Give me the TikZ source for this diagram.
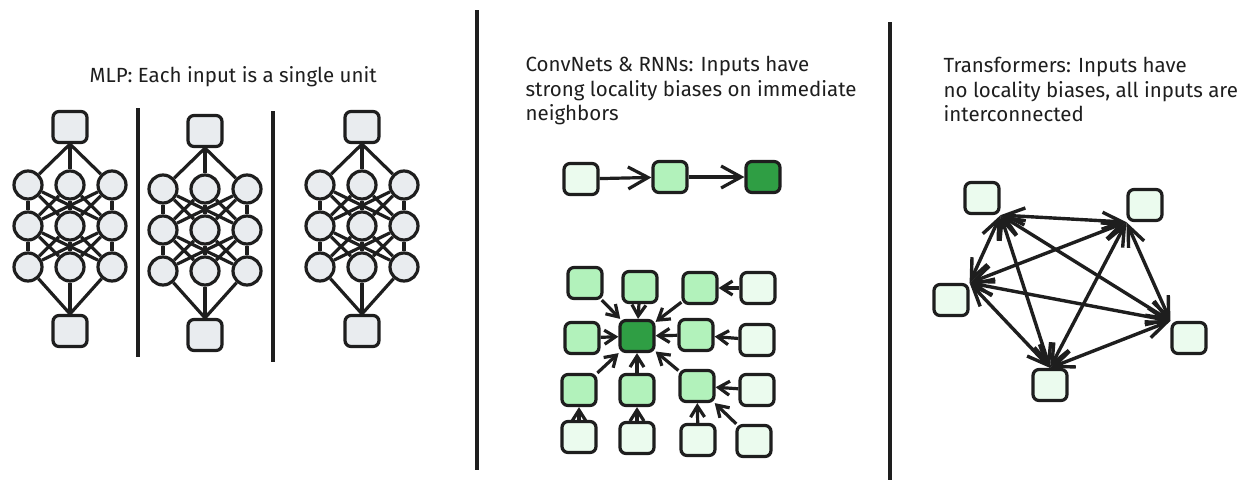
\documentclass[tikz,border=0pt]{standalone}
\usepackage{fontspec}
\setmainfont{Fira Sans}
\usetikzlibrary{arrows.meta,positioning}

\definecolor{ink}{HTML}{1E1E1E}
\definecolor{unitgray}{HTML}{E9ECEF}
\definecolor{palegreen}{HTML}{EBFBEE}
\definecolor{midgreen}{HTML}{B2F2BB}
\definecolor{darkgreen}{HTML}{2F9E44}

\begin{document}
\begin{tikzpicture}[x=1pt, y=-1pt, color=ink, line width=3.2pt,
  >={Straight Barb[length=11pt, width=14pt]},
  box/.style={draw, rounded corners=6pt, minimum width=34pt, minimum height=31pt, inner sep=0pt},
  unit/.style={circle, draw, fill=unitgray, minimum size=28pt, inner sep=0pt},
  title/.style={anchor=north west, align=left, inner sep=0pt, font=\fontsize{20.5}{24.5}\selectfont}]
\useasboundingbox (0,0) rectangle (1257,493);

% titles
\node[title] (tmlp) at (88,65) {MLP: Each input is a single unit};
\node[title] (tconv) at (524,55) {ConvNets \& RNNs: Inputs have\\strong locality biases on immediate\\neighbors};
\node[title] (ttrans) at (942,56) {Transformers: Inputs have\\no locality biases, all inputs are\\interconnected};

% dividers
\draw (138,108) -- (138,357);
\draw (273,111) -- (273,362);
\draw (477,10) -- (477,470);
\draw (890,22) -- (890,480);

% MLP columns
\foreach \c/\cx/\dy in {1/70/0, 2/205/4, 3/362/0} {
  \node[box, fill=unitgray] (Top\c) at (\cx,127+\dy) {};
  \node[box, fill=unitgray] (Bot\c) at (\cx,331+\dy) {};
  \foreach \r/\ry in {1/185, 2/226, 3/267}
    \foreach \i/\ix in {1/-42, 2/0, 3/42}
      \node[unit] (N\c\r\i) at (\cx+\ix,\ry+\dy) {};
  \foreach \i in {1,2,3} {
    \draw (Top\c.south) -- (N\c1\i);
    \draw (N\c3\i) -- (Bot\c.north);
    \foreach \j in {1,2,3} {
      \draw (N\c1\i) -- (N\c2\j);
      \draw (N\c2\i) -- (N\c3\j);
    }
  }
}

% ConvNets & RNNs: chain
\node[box, fill=palegreen] (S1) at (581,179) {};
\node[box, fill=midgreen] (S2) at (670,177) {};
\node[box, fill=darkgreen] (S3) at (763,177) {};
\path[->, >={Straight Barb[length=20pt, width=22pt]}] (S1) edge (S2) (S2) edge (S3);

% ConvNets & RNNs: grid
\node[box, fill=midgreen] (G11) at (585,283) {};
\node[box, fill=midgreen] (G12) at (640,287) {};
\node[box, fill=midgreen] (G13) at (700,288) {};
\node[box, fill=palegreen] (G14) at (758,288) {};
\node[box, fill=midgreen] (G21) at (582,338) {};
\node[box, fill=darkgreen] (G22) at (637,336) {};
\node[box, fill=midgreen] (G23) at (696,335) {};
\node[box, fill=palegreen] (G24) at (757,340) {};
\node[box, fill=midgreen] (G31) at (579,390) {};
\node[box, fill=midgreen] (G32) at (637,390) {};
\node[box, fill=midgreen] (G33) at (697,386) {};
\node[box, fill=palegreen] (G34) at (757,390) {};
\node[box, fill=palegreen] (G41) at (579,437) {};
\node[box, fill=palegreen] (G42) at (637,438) {};
\node[box, fill=palegreen] (G43) at (698,440) {};
\node[box, fill=palegreen] (G44) at (754,441) {};
\path[->] (G11) edge (G22) (G12) edge (G22) (G13) edge (G22)
          (G21) edge (G22) (G23) edge (G22)
          (G31) edge (G22) (G32) edge (G22) (G33) edge (G22);
\path[->] (G14) edge (G13) (G24) edge (G23) (G34) edge (G33)
          (G41) edge (G31) (G42) edge (G32) (G43) edge (G33) (G44) edge (G33);

% Transformers
\node[box, fill=palegreen] (T1) at (982,198) {};
\node[box, fill=palegreen] (T2) at (1145,205) {};
\node[box, fill=palegreen] (T3) at (951,300) {};
\node[box, fill=palegreen] (T4) at (1189,338) {};
\node[box, fill=palegreen] (T5) at (1050,385) {};
\path[<->, line width=3.4pt, >={Straight Barb[length=20pt, width=17pt]}]
  (T1.south east) edge (T2.south west)
  (T1.south east) edge (T3.north east)
  (T1.south east) edge (T4.north west)
  (T1.south east) edge (T5.north)
  (T2.south west) edge (T3.north east)
  (T2.south west) edge (T4.north west)
  (T2.south west) edge (T5.north)
  (T3.north east) edge (T4.north west)
  (T3.north east) edge (T5.north)
  (T4.north west) edge (T5.north);
\end{tikzpicture}
\end{document}
